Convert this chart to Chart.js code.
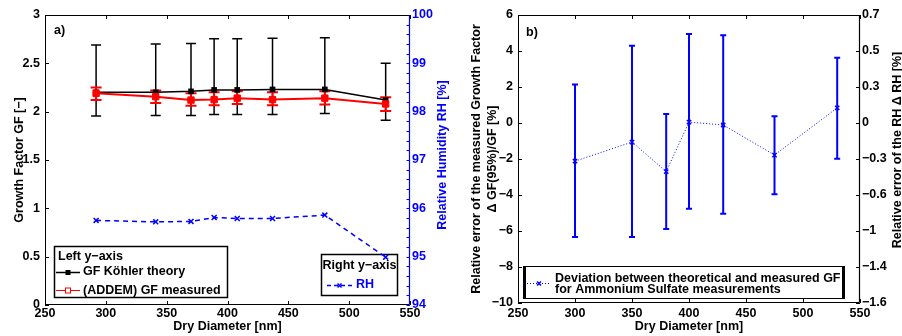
<!DOCTYPE html>
<html><head><meta charset="utf-8">
<script src="https://cdn.jsdelivr.net/npm/chart.js@4.4.1/dist/chart.umd.min.js"></script>
<style>
html,body{margin:0;padding:0;background:#fff;width:902px;height:336px;overflow:hidden}
canvas{position:absolute;top:0}
#ca{left:0;width:456px;height:336px}
#cb{left:450px;width:452px;height:336px}
</style></head><body>
<canvas id="ca" width="456" height="336"></canvas>
<canvas id="cb" width="452" height="336"></canvas>
<script>
// ---------- Panel a) data ----------
const diamGF      = [292, 341, 370, 389, 408, 437, 480, 530];
const gfKohler    = [2.20, 2.20, 2.21, 2.225, 2.225, 2.23, 2.23, 2.12];
const gfKohlerLow = [1.955, 1.96, 1.96, 1.97, 1.97, 1.97, 1.98, 1.91];
const gfKohlerHigh= [2.69, 2.70, 2.705, 2.755, 2.755, 2.76, 2.765, 2.50];
const gfMeasured  = [2.19, 2.155, 2.12, 2.125, 2.14, 2.125, 2.14, 2.08];
const gfMeasLow   = [2.12, 2.09, 2.06, 2.067, 2.08, 2.067, 2.074, 2.007];
const gfMeasHigh  = [2.25, 2.22, 2.19, 2.20, 2.21, 2.20, 2.21, 2.15];
const rh          = [95.75, 95.72, 95.73, 95.81, 95.79, 95.79, 95.86, 94.99];

// ---------- Panel b) data ----------
const diamDev     = [300, 350, 380, 400, 430, 475, 530];
const gfDev       = [-2.12, -1.06, -2.70, 0.05, -0.11, -1.78, 0.84];
const gfDevLow    = [-6.33, -6.33, -5.89, -4.76, -5.04, -3.96, -1.98];
const gfDevHigh   = [2.14, 4.29, 0.50, 4.94, 4.87, 0.37, 3.62];
const rhErrLabels = ['\u22121.6', '\u22121.4', '\u22121', '\u22120.6', '\u22120.3', '0', '0.3', '0.5', '0.7'];

// ---------- styling helpers ----------
const FAM = "'Liberation Sans', Arial, Helvetica, sans-serif";
const FS = 12.5;
const F = {family: FAM, size: FS, weight: 'bold'};
const CSSF = 'bold ' + FS + 'px ' + FAM;

function pts(xs, ys) { return xs.map((x, i) => ({x: x, y: ys[i]})); }
function fmt(v) { const r = Math.round(v * 100) / 100; return String(r).replace('-', '\u2212'); }

function errBars(chart, xs, lo, hi, color, lw, hw) {
  const ctx = chart.ctx, sx = chart.scales.x, sy = chart.scales.y;
  ctx.save(); ctx.strokeStyle = color; ctx.lineWidth = lw; ctx.setLineDash([]);
  xs.forEach((xv, i) => {
    const px = sx.getPixelForValue(xv), p1 = sy.getPixelForValue(lo[i]), p2 = sy.getPixelForValue(hi[i]);
    ctx.beginPath();
    ctx.moveTo(px, p1); ctx.lineTo(px, p2);
    ctx.moveTo(px - hw, p1); ctx.lineTo(px + hw, p1);
    ctx.moveTo(px - hw, p2); ctx.lineTo(px + hw, p2);
    ctx.stroke();
  });
  ctx.restore();
}

function inwardTicks(chart, id, side, color, len, minorDiv) {
  const s = chart.scales[id], a = chart.chartArea, ctx = chart.ctx;
  const vals = s.ticks.map(t => t.value);
  const all = vals.slice();
  if (minorDiv) {
    for (let i = 0; i < vals.length - 1; i++)
      for (let k = 1; k < minorDiv; k++) all.push(vals[i] + (vals[i + 1] - vals[i]) * k / minorDiv);
  }
  ctx.save(); ctx.strokeStyle = color; ctx.lineWidth = 1; ctx.beginPath();
  all.forEach(v => {
    const p = Math.round(s.getPixelForValue(v)) + 0.5;
    if (side === 'bottom') { ctx.moveTo(p, a.bottom); ctx.lineTo(p, a.bottom - len); }
    else if (side === 'top') { ctx.moveTo(p, a.top); ctx.lineTo(p, a.top + len); }
    else if (side === 'left') { ctx.moveTo(a.left, p); ctx.lineTo(a.left + len, p); }
    else { ctx.moveTo(a.right, p); ctx.lineTo(a.right - len, p); }
  });
  ctx.stroke(); ctx.restore();
}

function frame(chart, rightColor) {
  const a = chart.chartArea, ctx = chart.ctx;
  const l = a.left + 0.5, r = a.right - 0.5, t = a.top + 0.5, b = a.bottom - 0.5;
  ctx.save(); ctx.lineWidth = 1; ctx.strokeStyle = '#000';
  ctx.beginPath(); ctx.moveTo(r, t); ctx.lineTo(l, t); ctx.lineTo(l, b); ctx.lineTo(r, b); ctx.stroke();
  ctx.strokeStyle = rightColor; ctx.lineWidth = 1.2;
  ctx.beginPath(); ctx.moveTo(r, t); ctx.lineTo(r, b); ctx.stroke();
  ctx.restore();
}

function vText(ctx, txt, x, y, color) {
  ctx.save(); ctx.translate(x, y); ctx.rotate(-Math.PI / 2);
  ctx.font = CSSF; ctx.fillStyle = color; ctx.textAlign = 'center'; ctx.textBaseline = 'middle';
  ctx.fillText(txt, 0, 0); ctx.restore();
}

function xMark(ctx, x, y, r, color, lw) {
  ctx.save(); ctx.strokeStyle = color; ctx.lineWidth = lw; ctx.setLineDash([]);
  ctx.beginPath();
  ctx.moveTo(x - r, y - r); ctx.lineTo(x + r, y + r);
  ctx.moveTo(x - r, y + r); ctx.lineTo(x + r, y - r);
  ctx.stroke(); ctx.restore();
}

// ---------- Panel a) ----------
const decoA = {
  id: 'decoA',
  beforeDatasetsDraw(chart) {
    const ctx = chart.ctx;
    errBars(chart, diamGF, gfKohlerLow, gfKohlerHigh, '#000', 1.5, 5);
    errBars(chart, diamGF, gfMeasLow, gfMeasHigh, '#ff0000', 2, 5.5);
    ctx.save();
    ctx.font = CSSF; ctx.textAlign = 'left'; ctx.textBaseline = 'middle';
    // legend: left y-axis
    ctx.fillStyle = '#fff'; ctx.fillRect(54, 246, 174, 52);
    ctx.strokeStyle = '#000'; ctx.lineWidth = 1.5; ctx.strokeRect(54.5, 246.5, 173, 51);
    ctx.fillStyle = '#000';
    ctx.fillText('Left y\u2212axis', 58, 257);
    ctx.lineWidth = 1.5; ctx.beginPath(); ctx.moveTo(56, 272.5); ctx.lineTo(80, 272.5); ctx.stroke();
    ctx.fillRect(65.5, 270, 5, 5);
    ctx.fillText('GF K\u00f6hler theory', 83, 272);
    ctx.strokeStyle = '#ff0000'; ctx.lineWidth = 1;
    ctx.beginPath(); ctx.moveTo(56, 290.5); ctx.lineTo(80, 290.5); ctx.stroke();
    ctx.fillStyle = '#fff'; ctx.fillRect(65.5, 288, 5, 5); ctx.strokeRect(65.5, 288, 5, 5);
    ctx.fillStyle = '#000';
    ctx.fillText('(ADDEM) GF measured', 83, 290.5);
    // legend: right y-axis
    ctx.fillStyle = '#fff'; ctx.fillRect(321, 254, 77, 42);
    ctx.strokeStyle = '#000'; ctx.lineWidth = 1.5; ctx.strokeRect(321.5, 254.5, 76, 41);
    ctx.fillStyle = '#000'; ctx.textAlign = 'center';
    ctx.fillText('Right y\u2212axis', 359.5, 266);
    ctx.strokeStyle = '#0000ff'; ctx.lineWidth = 1.5; ctx.setLineDash([4, 3]);
    ctx.beginPath(); ctx.moveTo(327, 285.5); ctx.lineTo(352, 285.5); ctx.stroke();
    ctx.setLineDash([]);
    xMark(ctx, 339.5, 285.5, 2, '#0000ff', 1.5);
    ctx.fillStyle = '#0000ff'; ctx.textAlign = 'left';
    ctx.fillText('RH', 356, 285);
    ctx.restore();
  },
  afterDraw(chart) {
    const ctx = chart.ctx, a = chart.chartArea;
    inwardTicks(chart, 'x', 'bottom', '#000', 4);
    inwardTicks(chart, 'x', 'top', '#000', 4);
    inwardTicks(chart, 'y', 'left', '#000', 4);
    inwardTicks(chart, 'y2', 'right', '#0000ff', 3.5, 5);
    frame(chart, '#0000ff');
    vText(ctx, 'Relative Humidity RH [%]', 443, 155, '#0000ff');
    ctx.save();
    ctx.font = CSSF; ctx.textAlign = 'left'; ctx.textBaseline = 'middle'; ctx.fillStyle = '#000';
    ctx.fillText('a)', a.left + 9, 31);
    ctx.restore();
  }
};

new Chart(document.getElementById('ca'), {
  type: 'line',
  data: {
    datasets: [
      {label: '(ADDEM) GF measured', data: pts(diamGF, gfMeasured), yAxisID: 'y', order: 0,
       borderColor: '#ff0000', backgroundColor: '#ff0000', borderWidth: 2,
       pointStyle: 'rect', pointRadius: 4.5, pointBorderWidth: 1, tension: 0},
      {label: 'GF K\u00f6hler theory', data: pts(diamGF, gfKohler), yAxisID: 'y', order: 1,
       borderColor: '#000', backgroundColor: '#000', borderWidth: 1.5,
       pointStyle: 'rect', pointRadius: 4, pointBorderWidth: 0, tension: 0},
      {label: 'RH', data: pts(diamGF, rh), yAxisID: 'y2', order: 2,
       borderColor: '#0000ff', backgroundColor: '#0000ff', borderWidth: 1.5, borderDash: [5, 4],
       pointStyle: 'crossRot', pointRadius: 3.5, pointBorderWidth: 1.5, tension: 0}
    ]
  },
  options: {
    responsive: false, animation: false, devicePixelRatio: 1,
    layout: {padding: {top: 15, left: 0, right: 0, bottom: 0}},
    plugins: {legend: {display: false}, tooltip: {enabled: false}},
    scales: {
      x: {type: 'linear', position: 'bottom', min: 250, max: 550,
          ticks: {stepSize: 50, color: '#000', font: F, padding: 1, maxRotation: 0, callback: v => fmt(v)},
          grid: {display: false, drawTicks: false}, border: {display: false},
          title: {display: true, text: 'Dry Diameter [nm]', color: '#000', font: F, padding: {top: 0, bottom: 2}},
          afterFit(s) { s.height = 31; }},
      y: {type: 'linear', position: 'left', min: 0, max: 3,
          ticks: {stepSize: 0.5, color: '#000', font: F, padding: 5, callback: v => fmt(v)},
          grid: {display: false, drawTicks: false}, border: {display: false},
          title: {display: true, text: 'Growth Factor GF [\u2212]', color: '#000', font: F, padding: {top: 12, bottom: 0}},
          afterFit(s) { s.width = 45; }},
      y2: {type: 'linear', position: 'right', min: 94, max: 100,
          ticks: {stepSize: 1, color: '#0000ff', font: F, padding: 2, callback: v => fmt(v)},
          grid: {display: false, drawTicks: false}, border: {display: false},
          afterFit(s) { s.width = 46; }}
    }
  },
  plugins: [decoA]
});

// ---------- Panel b) ----------
const decoB = {
  id: 'decoB',
  beforeDatasetsDraw(chart) {
    errBars(chart, diamDev, gfDevLow, gfDevHigh, '#0000ff', 2, 3);
  },
  afterDraw(chart) {
    const ctx = chart.ctx, a = chart.chartArea;
    inwardTicks(chart, 'x', 'bottom', '#000', 4);
    inwardTicks(chart, 'x', 'top', '#000', 4);
    inwardTicks(chart, 'y', 'left', '#000', 4);
    inwardTicks(chart, 'y2', 'right', '#000', 4);
    frame(chart, '#000');
    vText(ctx, 'Relative error of the RH \u0394 RH [%]', 448, 150, '#000');
    ctx.save();
    ctx.font = CSSF; ctx.textAlign = 'left'; ctx.textBaseline = 'middle'; ctx.fillStyle = '#000';
    ctx.fillText('b)', a.left + 8, 33);
    // legend
    const L = 73, T = 266, W = 321, H = 32;
    ctx.fillStyle = '#fff'; ctx.fillRect(L, T, W, H);
    ctx.strokeStyle = '#000'; ctx.lineWidth = 1; ctx.strokeRect(L + 0.5, T + 0.5, W, H);
    ctx.lineWidth = 3;
    ctx.beginPath(); ctx.moveTo(L + 1.5, T); ctx.lineTo(L + 1.5, T + H + 1);
    ctx.moveTo(L + W - 0.5, T); ctx.lineTo(L + W - 0.5, T + H + 1); ctx.stroke();
    ctx.strokeStyle = '#0000ff'; ctx.lineWidth = 1; ctx.setLineDash([1, 2]);
    ctx.beginPath(); ctx.moveTo(77, 283.5); ctx.lineTo(101, 283.5); ctx.stroke();
    ctx.setLineDash([]);
    xMark(ctx, 89, 283.5, 2, '#0000ff', 1.5);
    ctx.fillStyle = '#000';
    ctx.fillText('Deviation between theoretical and measured GF', 105, 278.5);
    ctx.fillText('for Ammonium Sulfate measurements', 105, 289.5);
    ctx.restore();
  }
};

new Chart(document.getElementById('cb'), {
  type: 'line',
  data: {
    datasets: [
      {label: 'Deviation between theoretical and measured GF for Ammonium Sulfate measurements',
       data: pts(diamDev, gfDev), yAxisID: 'y',
       borderColor: '#0000ff', backgroundColor: '#0000ff', borderWidth: 1, borderDash: [1, 2],
       pointStyle: 'crossRot', pointRadius: 3, pointBorderWidth: 1.5, tension: 0}
    ]
  },
  options: {
    responsive: false, animation: false, devicePixelRatio: 1,
    layout: {padding: {top: 15, left: 0, right: 0, bottom: 0}},
    plugins: {legend: {display: false}, tooltip: {enabled: false}},
    scales: {
      x: {type: 'linear', position: 'bottom', min: 250, max: 550,
          ticks: {stepSize: 50, color: '#000', font: F, padding: 3, maxRotation: 0, callback: v => fmt(v)},
          grid: {display: false, drawTicks: false}, border: {display: false},
          title: {display: true, text: 'Dry Diameter [nm]', color: '#000', font: F, padding: {top: 0, bottom: 2}},
          afterFit(s) { s.height = 33; }},
      y: {type: 'linear', position: 'left', min: -10, max: 6,
          ticks: {stepSize: 2, color: '#000', font: F, padding: 5, callback: v => fmt(v)},
          grid: {display: false, drawTicks: false}, border: {display: false},
          title: {display: true, text: ['Relative error of the measured Growth Factor', '\u0394 GF(95%)/GF [%]'],
                  color: '#000', font: {family: FAM, size: FS, weight: 'bold', lineHeight: 1.25}, padding: {top: 19, bottom: 0}},
          afterFit(s) { s.width = 68; }},
      y2: {type: 'linear', position: 'right', min: -10, max: 6,
          ticks: {stepSize: 2, color: '#000', font: F, padding: 2,
                  callback: v => rhErrLabels[Math.round((v + 10) / 2)]},
          grid: {display: false, drawTicks: false}, border: {display: false},
          afterFit(s) { s.width = 42; }}
    }
  },
  plugins: [decoB]
});
</script>
</body></html>
